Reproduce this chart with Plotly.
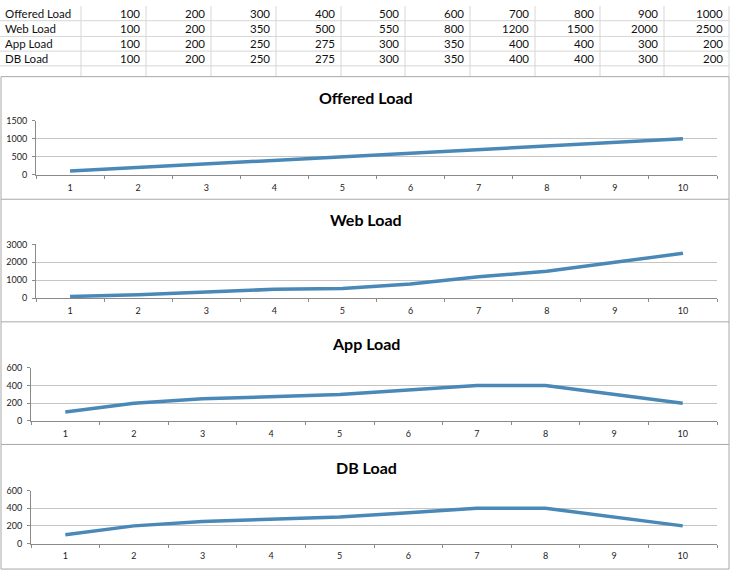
import plotly.graph_objects as go

# ---------------- data ----------------
steps = [str(s) for s in range(1, 11)]
row_labels = ["Offered Load", "Web Load", "App Load", "DB Load"]
offered_load = [100, 200, 300, 400, 500, 600, 700, 800, 900, 1000]
web_load = [100, 200, 350, 500, 550, 800, 1200, 1500, 2000, 2500]
app_load = [100, 200, 250, 275, 300, 350, 400, 400, 300, 200]
db_load = [100, 200, 250, 275, 300, 350, 400, 400, 300, 200]
series = [offered_load, web_load, app_load, db_load]
y_max = [1500, 3000, 600, 600]
y_step = [500, 1000, 200, 200]

# ---------------- layout helpers ----------------
W, H = 732, 576
FONT = "Lato"
LINE_BLUE = "#4A89B7"
AXIS_GREY = "#8a8a8a"
GRID_GREY = "#c4c4c4"
TABLE_GREY = "#d6d6d6"
BORDER_GREY = "#a8a8a8"


def px(x):
    return x / W


def py(y):
    return 1 - y / H


# panel geometry in pixels: plot left, right, top, bottom, title centre y
panels = [
    dict(x0=36, x1=717, top=117, bot=172, title=93),
    dict(x0=36, x1=717, top=243, bot=298, title=218),
    dict(x0=31, x1=717, top=369, bot=423, title=344),
    dict(x0=31, x1=717, top=494, bot=548, title=470),
]

fig = go.Figure()
layout = dict(
    width=W, height=H,
    margin=dict(l=0, r=0, t=0, b=0),
    paper_bgcolor="white", plot_bgcolor="white",
    showlegend=False,
    font=dict(family=FONT, color="#1a1a1a"),
)
annotations = []
shapes = []

for i, (vals, p) in enumerate(zip(series, panels)):
    n = "" if i == 0 else str(i + 1)
    fig.add_trace(go.Scatter(
        x=steps, y=vals, mode="lines",
        line=dict(color=LINE_BLUE, width=3.5),
        xaxis="x" + n, yaxis="y" + n, hoverinfo="skip",
    ))
    layout["xaxis" + n] = dict(
        domain=[px(p["x0"]), px(p["x1"])],
        anchor="y" + n, type="category",
        range=[-0.5, 9.5], tickson="boundaries",
        ticks="outside", ticklen=3, tickcolor=AXIS_GREY,
        ticklabelstandoff=4,
        showline=True, linecolor=AXIS_GREY, linewidth=1,
        showgrid=False, zeroline=False,
        tickfont=dict(size=9, family=FONT, color="#222"),
        fixedrange=True,
    )
    layout["yaxis" + n] = dict(
        domain=[py(p["bot"]), py(p["top"])],
        anchor="x" + n, range=[0, y_max[i]], dtick=y_step[i], tick0=0,
        ticks="outside", ticklen=3, tickcolor=AXIS_GREY,
        ticklabelstandoff=3,
        showline=True, linecolor=AXIS_GREY, linewidth=1,
        showgrid=True, gridcolor=GRID_GREY, gridwidth=1,
        zeroline=False,
        tickfont=dict(size=9, family=FONT, color="#222"),
        fixedrange=True,
    )
    annotations.append(dict(
        x=0.5, y=py(p["title"]), xref="paper", yref="paper",
        text=row_labels[i], showarrow=False,
        xanchor="center", yanchor="middle",
        font=dict(size=16, family=FONT, color="#000", weight="bold"),
    ))

# ---------------- spreadsheet table on top ----------------
col_edges = [0, 81, 146, 211, 276, 341, 405, 470, 535, 600, 664, 729]
row_lines = [15, 31, 46, 61]
row_centres = [7.5, 23, 38.5, 53.5]
for r, (label, vals) in enumerate(zip(row_labels, series)):
    annotations.append(dict(
        x=px(3), y=py(row_centres[r]), xref="paper", yref="paper",
        text=label, showarrow=False, xanchor="left", yanchor="middle",
        font=dict(size=11.5, family=FONT, color="#111"),
    ))
    for c, v in enumerate(vals):
        annotations.append(dict(
            x=px(col_edges[c + 2] - 4), y=py(row_centres[r]),
            xref="paper", yref="paper",
            text=str(v), showarrow=False, xanchor="right", yanchor="middle",
            font=dict(size=11.5, family=FONT, color="#111"),
        ))

for yl in row_lines:
    shapes.append(dict(type="line", xref="paper", yref="paper",
                       x0=0, x1=px(729), y0=py(yl), y1=py(yl),
                       line=dict(color=TABLE_GREY, width=1)))
for xe in col_edges[1:]:
    shapes.append(dict(type="line", xref="paper", yref="paper",
                       x0=px(xe), x1=px(xe), y0=py(0), y1=py(72),
                       line=dict(color=TABLE_GREY, width=1)))

# ---------------- chart panel borders ----------------
for yl in [72, 197, 322, 447, 574]:
    shapes.append(dict(type="line", xref="paper", yref="paper",
                       x0=px(1), x1=px(729), y0=py(yl), y1=py(yl),
                       line=dict(color=BORDER_GREY, width=1)))
for xe in [1, 729]:
    shapes.append(dict(type="line", xref="paper", yref="paper",
                       x0=px(xe), x1=px(xe), y0=py(72), y1=py(574),
                       line=dict(color=BORDER_GREY, width=1)))

layout["annotations"] = annotations
layout["shapes"] = shapes
fig.update_layout(**layout)
fig.write_html("out.html")
